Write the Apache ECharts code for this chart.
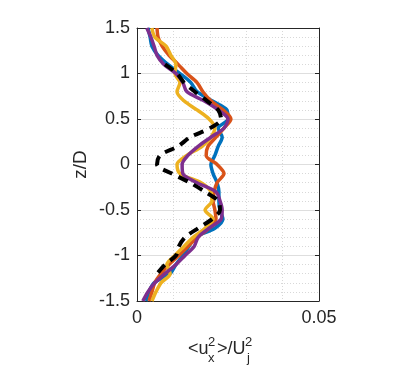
<!DOCTYPE html>
<html><head><meta charset="utf-8">
<script src="https://cdn.jsdelivr.net/npm/echarts@6/dist/echarts.min.js"></script>
<style>html,body{margin:0;padding:0;background:#fff}#c{width:414px;height:373px}</style>
</head><body><div id="c"></div>
<script>
const zLevels = [1.5,1.4,1.3,1.2,1.1,1.0,0.9,0.8,0.7,0.6,0.5,0.4,0.3,0.2,0.1,0.0,-0.1,-0.2,-0.3,-0.4,-0.5,-0.6,-0.7,-0.8,-0.9,-1.0,-1.1,-1.2,-1.3,-1.4,-1.5];
const blueX   = [0.0030,0.0036,0.0041,0.0058,0.0085,0.0118,0.0148,0.0165,0.0206,0.0247,0.0250,0.0223,0.0234,0.0223,0.0214,0.0203,0.0209,0.0220,0.0225,0.0225,0.0228,0.0236,0.0214,0.0159,0.0143,0.0126,0.0107,0.0091,0.0047,0.0033,0.0025];
const orangeX = [0.0055,0.0058,0.0069,0.0088,0.0113,0.0137,0.0165,0.0181,0.0203,0.0236,0.0258,0.0239,0.0217,0.0195,0.0190,0.0220,0.0239,0.0220,0.0212,0.0209,0.0214,0.0217,0.0198,0.0165,0.0140,0.0115,0.0088,0.0066,0.0049,0.0041,0.0033];
const yellowX = [0.0041,0.0049,0.0080,0.0093,0.0107,0.0104,0.0118,0.0110,0.0129,0.0165,0.0198,0.0214,0.0203,0.0179,0.0137,0.0110,0.0118,0.0176,0.0203,0.0206,0.0187,0.0209,0.0187,0.0154,0.0129,0.0104,0.0082,0.0091,0.0066,0.0052,0.0041];
const purpleX = [0.0027,0.0038,0.0047,0.0055,0.0074,0.0107,0.0126,0.0137,0.0184,0.0223,0.0250,0.0239,0.0203,0.0168,0.0140,0.0124,0.0126,0.0165,0.0217,0.0228,0.0234,0.0231,0.0198,0.0168,0.0157,0.0132,0.0107,0.0077,0.0049,0.0030,0.0016];
const blackZ  = [1.1,1.0,0.9,0.8,0.7,0.6,0.5,0.4,0.3,0.2,0.1,0.0,-0.1,-0.2,-0.3,-0.4,-0.5,-0.6,-0.7,-0.8,-0.9,-1.0,-1.1,-1.2];
const blackX  = [0.0077,0.0110,0.0129,0.0159,0.0192,0.0223,0.0231,0.0201,0.0146,0.0113,0.0063,0.0055,0.0096,0.0146,0.0187,0.0223,0.0228,0.0206,0.0168,0.0132,0.0115,0.0107,0.0077,0.0055];
const yTitle = 'z/D';
const xTitleParts = ['<u', '2', 'x', '>/U', '2', 'j'];

const pairs = (xs, zs) => xs.map((x, i) => [x, zs[i]]);
const FONT = '"Liberation Sans", Arial, Helvetica, sans-serif';
const AX = '#262626';

const chart = echarts.init(document.getElementById('c'), null, {renderer: 'canvas'});
const lineSeries = (name, xs, zs, color, dashed) => ({
  name, type: 'line', data: pairs(xs, zs), showSymbol: false, smooth: 0.3,
  lineStyle: {color, width: dashed ? 4 : 3.5, type: dashed ? [10, 7] : 'solid', cap: 'butt'},
  xAxisIndex: 0, yAxisIndex: 0, animation: false, z: 3
});
const axisBase = {
  axisLine: {show: true, onZero: false, lineStyle: {color: AX, width: 1}},
  axisTick: {show: true, inside: true, length: 4, lineStyle: {color: AX}}
};
const txt = (text, left, y, size) => ({
  type: 'text', left: left, top: y - size * 0.6,
  style: {text, fill: AX, font: size + 'px ' + FONT}
});
chart.setOption({
  animation: false,
  grid: {left: 137, right: 95, top: 28, bottom: 72, containLabel: false},
  xAxis: [Object.assign({
    type: 'value', min: 0, max: 0.05, interval: 0.05,
    axisLabel: {color: AX, fontSize: 18, fontFamily: FONT, margin: 8,
      formatter: v => v === 0 ? '0' : String(+v.toFixed(2))},
    splitLine: {show: false},
    minorTick: {show: false, splitNumber: 5},
    minorSplitLine: {show: true, lineStyle: {color: '#d8d8d8', type: [1, 2], width: 1}}
  }, axisBase), Object.assign({
    type: 'value', position: 'top', min: 0, max: 0.05, interval: 0.05,
    axisLabel: {show: false}, splitLine: {show: false}
  }, axisBase)],
  yAxis: [Object.assign({
    type: 'value', min: -1.5, max: 1.5, interval: 0.5,
    axisLabel: {color: AX, fontSize: 18, fontFamily: FONT, margin: 7},
    splitLine: {show: true, lineStyle: {color: '#dedede', width: 1}},
    minorTick: {show: false, splitNumber: 5},
    minorSplitLine: {show: true, lineStyle: {color: '#d8d8d8', type: [1, 2], width: 1}},
    name: yTitle, nameLocation: 'middle', nameGap: 47, nameRotate: 90,
    nameTextStyle: {color: AX, fontFamily: FONT, fontSize: 19}
  }, axisBase), Object.assign({
    type: 'value', position: 'right', min: -1.5, max: 1.5, interval: 0.5,
    axisLabel: {show: false}, splitLine: {show: false}
  }, axisBase)],
  graphic: [
    txt(xTitleParts[0], 188, 351, 18),
    txt(xTitleParts[1], 208, 344, 13),
    txt(xTitleParts[2], 208, 360, 13),
    txt(xTitleParts[3], 217, 351, 18),
    txt(xTitleParts[4], 245, 344, 13),
    txt(xTitleParts[5], 247, 360, 13)
  ],
  series: [
    lineSeries('blue', blueX, zLevels, '#0072BD'),
    lineSeries('orange', orangeX, zLevels, '#D95319'),
    lineSeries('yellow', yellowX, zLevels, '#EDB120'),
    lineSeries('purple', purpleX, zLevels, '#7E2F8E'),
    lineSeries('black', blackX, blackZ, '#000000', true)
  ]
});
</script></body></html>
